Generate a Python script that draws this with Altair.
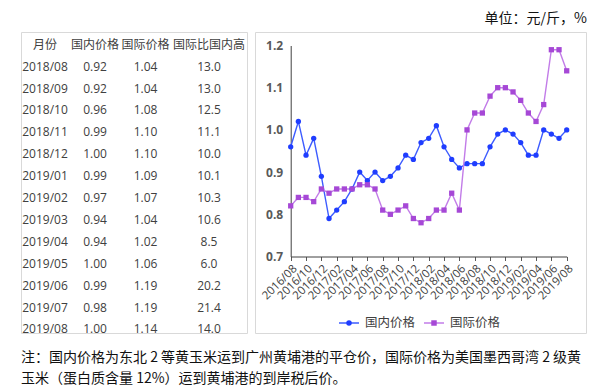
import altair as alt
import pandas as pd

# ---------------- data ----------------
months = ["2016/08", "2016/09", "2016/10", "2016/11", "2016/12",
          "2017/01", "2017/02", "2017/03", "2017/04", "2017/05", "2017/06",
          "2017/07", "2017/08", "2017/09", "2017/10", "2017/11", "2017/12",
          "2018/01", "2018/02", "2018/03", "2018/04", "2018/05", "2018/06",
          "2018/07", "2018/08", "2018/09", "2018/10", "2018/11", "2018/12",
          "2019/01", "2019/02", "2019/03", "2019/04", "2019/05", "2019/06",
          "2019/07", "2019/08"]
domestic = [0.96, 1.02, 0.94, 0.98, 0.89,
            0.79, 0.81, 0.83, 0.86, 0.90, 0.88, 0.90, 0.88, 0.89, 0.91, 0.94, 0.93,
            0.97, 0.98, 1.01, 0.96, 0.93, 0.91, 0.92, 0.92, 0.92, 0.96, 0.99, 1.00,
            0.99, 0.97, 0.94, 0.94, 1.00, 0.99, 0.98, 1.00]
international = [0.82, 0.84, 0.84, 0.83, 0.86,
                 0.85, 0.86, 0.86, 0.86, 0.87, 0.87, 0.86, 0.81, 0.80, 0.81, 0.82, 0.79,
                 0.78, 0.79, 0.81, 0.81, 0.85, 0.81, 1.00, 1.04, 1.04, 1.08, 1.10, 1.10,
                 1.09, 1.07, 1.04, 1.02, 1.06, 1.19, 1.19, 1.14]
series_names = ["国内价格", "国际价格"]
x_tick_labels = ["2016/08", "2016/10", "2016/12", "2017/02", "2017/04", "2017/06",
                 "2017/08", "2017/10", "2017/12", "2018/02", "2018/04", "2018/06",
                 "2018/08", "2018/10", "2018/12", "2019/02", "2019/04", "2019/06",
                 "2019/08"]
y_ticks = [0.7, 0.8, 0.9, 1.0, 1.1, 1.2]

table_header = ["月份", "国内价格", "国际价格", "国际比国内高"]
table_months = ["2018/08", "2018/09", "2018/10", "2018/11", "2018/12", "2019/01",
                "2019/02", "2019/03", "2019/04", "2019/05", "2019/06", "2019/07",
                "2019/08"]
table_domestic = [0.92, 0.92, 0.96, 0.99, 1.00, 0.99, 0.97, 0.94, 0.94, 1.00, 0.99, 0.98, 1.00]
table_international = [1.04, 1.04, 1.08, 1.10, 1.10, 1.09, 1.07, 1.04, 1.02, 1.06, 1.19, 1.19, 1.14]
table_premium = [13.0, 13.0, 12.5, 11.1, 10.0, 10.1, 10.3, 10.6, 8.5, 6.0, 20.2, 21.4, 14.0]

unit_text = "单位：元/斤，%"
note_lines = ["注：国内价格为东北 2 等黄玉米运到广州黄埔港的平仓价，国际价格为美国墨西哥湾 2 级黄",
              "玉米（蛋白质含量 12%）运到黄埔港的到岸税后价。"]

# ---------------- styles ----------------
BLUE_LINE, BLUE = "#3d5cff", "#1f3dff"
PURPLE_LINE, PURPLE = "#c27ce8", "#a648d6"
CJK = "Noto Sans CJK SC"
MIX = "Open Sans, Noto Sans CJK SC"
TXT = "#404040"
BORDER = "#d9d9d9"

# ---------------- line chart panel ----------------
long = pd.DataFrame({
    "month": months * 2,
    "value": domestic + international,
    "series": [series_names[0]] * len(months) + [series_names[1]] * len(months),
})

PW, PH = 331, 301
x_scale = alt.Scale(type="point", domain=months, range=[35.7, 311.7], padding=0)
y_scale = alt.Scale(domain=[0.7, 1.2], range=[224.5, 13.5], zero=False, nice=False)
stroke_scale = alt.Scale(domain=series_names, range=[BLUE_LINE, PURPLE_LINE])
fill_scale = alt.Scale(domain=series_names, range=[BLUE, PURPLE])
shape_scale = alt.Scale(domain=series_names, range=["circle", "square"])

x_axis = alt.Axis(values=x_tick_labels, labelAngle=-45, labelFont=MIX, labelFontSize=11.5,
                  labelColor=TXT, tickColor="#595959", tickSize=4, domainColor="#404040",
                  grid=False, title=None, offset=-76.5, labelPadding=2)
y_axis = alt.Axis(values=y_ticks, format=".1f", ticks=False, labelFont=MIX, labelFontSize=12,
                  labelFontWeight="bold", labelColor="#595959", domainColor="#404040",
                  grid=False, title=None, offset=-35.7, labelPadding=8)

lines = alt.Chart(long).mark_line(strokeWidth=1.4).encode(
    x=alt.X("month:N", scale=x_scale, axis=x_axis),
    y=alt.Y("value:Q", scale=y_scale, axis=y_axis),
    stroke=alt.Stroke("series:N", scale=stroke_scale, legend=None),
)
points = alt.Chart(long).mark_point(filled=True, size=28, opacity=1).encode(
    x=alt.X("month:N", scale=x_scale),
    y=alt.Y("value:Q", scale=y_scale),
    fill=alt.Fill("series:N", scale=fill_scale, legend=None),
    shape=alt.Shape("series:N", scale=shape_scale, legend=None),
)

leg_df = pd.DataFrame({"series": series_names})
leg_x = alt.X("series:N", scale=alt.Scale(type="point", domain=series_names, range=[94, 179], padding=0), axis=None)
leg_seg = alt.Chart(leg_df).mark_point(shape="M-1,0H1", filled=False, size=400, strokeWidth=1.5, opacity=1).encode(
    x=leg_x, y=alt.value(291),
    stroke=alt.Stroke("series:N", scale=stroke_scale, legend=None),
)
leg_mark = alt.Chart(leg_df).mark_point(filled=True, size=30, opacity=1).encode(
    x=leg_x, y=alt.value(291),
    fill=alt.Fill("series:N", scale=fill_scale, legend=None),
    shape=alt.Shape("series:N", scale=shape_scale, legend=None),
)
leg_text = alt.Chart(leg_df).mark_text(align="left", baseline="middle", dx=16, font=CJK,
                                       fontSize=12.5, color=TXT).encode(
    x=leg_x, y=alt.value(291), text="series:N",
)

panel = alt.layer(
    alt.layer(lines, points),
    alt.layer(leg_seg, leg_mark, leg_text),
).resolve_scale(x="independent").properties(
    width=PW, height=PH, view=alt.ViewBackground(stroke=BORDER, strokeWidth=1)
)

# ---------------- table panel ----------------
row_scale = alt.Scale(type="point", domain=list(range(14)), range=[12.7, 297.4], padding=0)
col_pos = [24, 74, 124.5, 188]
columns = [
    table_months,
    [f"{v:.2f}" for v in table_domestic],
    [f"{v:.2f}" for v in table_international],
    [f"{v:.1f}" for v in table_premium],
]
table_layers = []
for j, col in enumerate(columns):
    df = pd.DataFrame({"row": list(range(14)), "txt": [table_header[j]] + col})
    table_layers.append(
        alt.Chart(df).mark_text(align="center", baseline="middle", font=MIX, fontSize=12, color=TXT).encode(
            x=alt.value(col_pos[j]),
            y=alt.Y("row:O", scale=row_scale, axis=None),
            text="txt:N",
        )
    )
table = alt.layer(*table_layers).properties(
    width=226, height=301, view=alt.ViewBackground(stroke=BORDER, strokeWidth=1)
)

# ---------------- unit & note ----------------
unit = alt.Chart(pd.DataFrame({"t": [unit_text]})).mark_text(
    align="right", baseline="middle", font=CJK, fontSize=14, color="#111111"
).encode(x=alt.value(566), y=alt.value(8), text="t:N").properties(
    width=566, height=15, view=alt.ViewBackground(stroke="transparent")
)

note_df = pd.DataFrame({"line": [0, 1], "t": note_lines})
note = alt.Chart(note_df).mark_text(
    align="left", baseline="middle", font=CJK, fontSize=14, color="#111111"
).encode(
    x=alt.value(0),
    y=alt.Y("line:O", scale=alt.Scale(type="point", domain=[0, 1], range=[17, 38], padding=0), axis=None),
    text="t:N",
).properties(width=566, height=46, view=alt.ViewBackground(stroke="transparent"))

chart = alt.vconcat(
    unit,
    alt.hconcat(table, panel, spacing=6),
    note,
    spacing=4,
).properties(
    padding={"left": 12, "top": 2, "right": 0, "bottom": 0}
).configure(background="white")

chart.save("out.html", embed_options={"renderer": "svg", "actions": False})
